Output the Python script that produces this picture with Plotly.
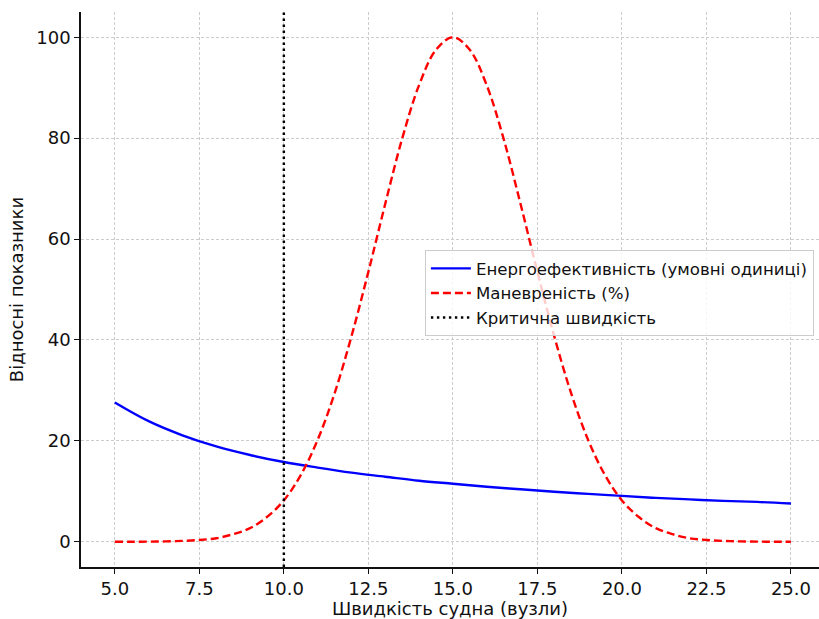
import plotly.graph_objects as go

# Data
speed_blue = [5, 6, 7, 8, 9, 10, 11, 12, 13, 14, 15, 16, 17, 18, 19, 20, 21, 22, 23, 24, 25]
energy_eff = [27.6, 23.9, 21.1, 18.9, 17.2, 15.8, 14.7, 13.7, 12.9, 12.1, 11.5,
              10.9, 10.4, 9.9, 9.5, 9.1, 8.7, 8.4, 8.1, 7.9, 7.6]

speed_red = [5.0, 5.5, 6.0, 6.5, 7.0, 7.5, 8.0, 8.5, 9.0, 9.5, 10.0, 10.5, 11.0, 11.5,
             12.0, 12.5, 13.0, 13.5, 14.0, 14.5, 15.0, 15.5, 16.0, 16.5, 17.0, 17.5,
             18.0, 18.5, 19.0, 19.5, 20.0, 20.5, 21.0, 21.5, 22.0, 22.5, 23.0, 23.5,
             24.0, 24.5, 25.0]
maneuver = [0.0, 0.01, 0.03, 0.07, 0.17, 0.36, 0.7, 1.5, 2.7, 4.9, 8.2, 13.2, 20.2, 29.4,
            40.7, 53.5, 67.0, 79.9, 90.5, 97.5, 100.0, 97.5, 90.5, 79.9, 67.0, 53.5,
            40.7, 29.4, 20.2, 13.2, 8.2, 4.9, 2.7, 1.5, 0.7, 0.36, 0.17, 0.07, 0.03,
            0.01, 0.0]

critical_speed = 10
y_range = [-5, 105]
x_range = [4.0, 25.83]

names = ["Енергоефективність (умовні одиниці)", "Маневреність (%)", "Критична швидкість"]

font_family = "DejaVu Sans"

fig = go.Figure()
fig.add_trace(go.Scatter(x=speed_blue, y=energy_eff, mode="lines", name=names[0],
                         line=dict(color="#0000ff", width=2.4, shape="spline")))
fig.add_trace(go.Scatter(x=speed_red, y=maneuver, mode="lines", name=names[1],
                         line=dict(color="#ff0000", width=2.4, dash="8px,4px", shape="spline")))
fig.add_trace(go.Scatter(x=[critical_speed, critical_speed], y=y_range, mode="lines",
                         name=names[2], line=dict(color="black", width=2.4, dash="2.4px,3.6px")))

axis_common = dict(
    showline=True, linecolor="#111111", linewidth=1.5, mirror=False,
    ticks="outside", ticklen=5, tickwidth=1.3, tickcolor="#111111",
    showgrid=True, gridcolor="#cccccc", gridwidth=0.8, griddash="3px,2px",
    zeroline=False, automargin=False,
    tickfont=dict(family=font_family, size=18, color="#111111"),
)

fig.update_layout(
    width=819, height=619,
    margin=dict(l=81, r=0, t=12, b=52),
    paper_bgcolor="white", plot_bgcolor="white",
    font=dict(family=font_family, color="#111111"),
    xaxis=dict(range=x_range, tickmode="linear", tick0=5, dtick=2.5, tickformat=".1f",
               title=dict(text="Швидкість судна (вузли)", font=dict(size=18), standoff=2),
               **axis_common),
    yaxis=dict(range=y_range, tickmode="linear", tick0=0, dtick=20,
               title=dict(text="Відносні показники", font=dict(size=18), standoff=8),
               **axis_common),
    legend=dict(x=0.466, y=0.571, xanchor="left", yanchor="top",
                bgcolor="rgba(255,255,255,0.8)", bordercolor="#cccccc", borderwidth=1,
                font=dict(family=font_family, size=16.6, color="#111111"),
                itemwidth=40, tracegroupgap=0),
    showlegend=True,
)

fig.write_html("out.html", config={"displayModeBar": False},
               post_script="document.body.style.margin='0';document.body.style.overflow='hidden';")
